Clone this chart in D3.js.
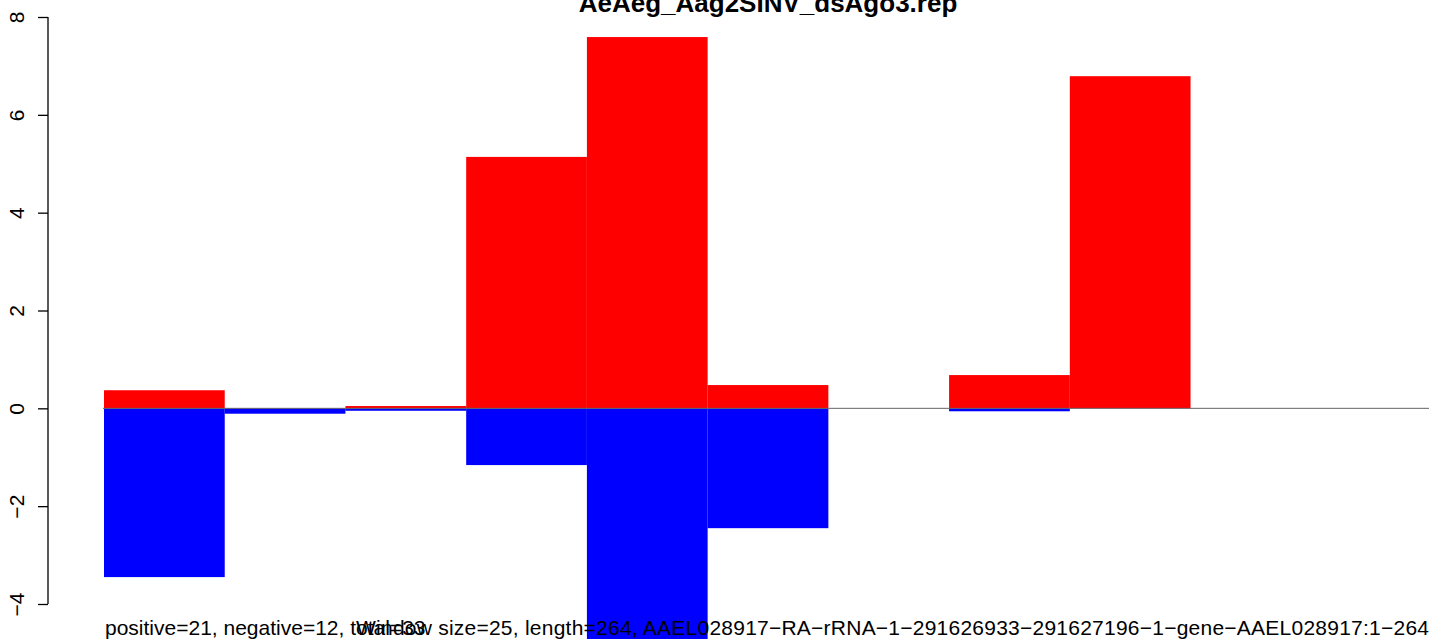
<!DOCTYPE html>
<html><head><meta charset="utf-8">
<script src="https://cdn.jsdelivr.net/npm/d3@7"></script>
<style>html,body{margin:0;padding:0;background:#fff;overflow:hidden}</style>
</head><body><svg id="c" width="1429" height="639"></svg>
<script>
const titleText = "AeAeg_Aag2SINV_dsAgo3.rep";
const windows = [0,1,2,3,4,5,6,7,8,9,10];
const positive = [0.37, 0, 0.047, 5.14, 7.59, 0.476, 0, 0.68, 6.79, 0, 0];
const negative = [-3.45, -0.11, -0.05, -1.16, -4.8, -2.45, 0, -0.06, 0, 0, 0];
const yTicks = [-4, -2, 0, 2, 4, 6, 8];
const leftNote = "positive=21, negative=12, total=33";
const rightNote = "Window size=25, length=264, AAEL028917\u2212RA\u2212rRNA\u22121\u2212291626933\u2212291627196\u22121\u2212gene\u2212AAEL028917:1\u2212264";

const svg = d3.select("#c");
const font = "'Liberation Sans', Arial, Helvetica, sans-serif";
const x = d3.scaleLinear().domain([0, 11]).range([104, 1432]);
const y = d3.scaleLinear().domain([-4, 8]).range([604, 17]);

// positive bars
svg.append("g").selectAll("rect").data(windows.filter(i => positive[i] > 0)).join("rect")
  .attr("x", i => x(i)).attr("width", i => x(i + 1) - x(i))
  .attr("y", i => y(positive[i])).attr("height", i => y(0) - y(positive[i]))
  .attr("fill", "#ff0000");
// negative bars
svg.append("g").selectAll("rect").data(windows.filter(i => negative[i] < 0)).join("rect")
  .attr("x", i => x(i)).attr("width", i => x(i + 1) - x(i))
  .attr("y", y(0)).attr("height", i => y(negative[i]) - y(0))
  .attr("fill", "#0000ff");

// zero line
svg.append("line").attr("x1", 103).attr("x2", 1429).attr("y1", y(0)).attr("y2", y(0))
  .attr("stroke", "#666").attr("stroke-width", 1);

// y axis
const ax = svg.append("g").attr("transform", "translate(48,0)")
  .call(d3.axisLeft(y).tickValues(yTicks).tickSize(10).tickPadding(0).tickFormat(d => d < 0 ? "\u2212" + Math.abs(d) : d));
ax.select(".domain").attr("stroke", "#000").attr("stroke-width", 1.3).attr("d", `M0,${y(-4)}V${y(8)}`);
ax.selectAll(".tick line").attr("stroke", "#000").attr("stroke-width", 1.3);
ax.selectAll(".tick text")
  .attr("font-family", font).attr("font-size", 21).attr("fill", "#000")
  .attr("x", null).attr("dy", null)
  .attr("text-anchor", "middle")
  .attr("transform", "translate(-24,0) rotate(-90)");

// title
svg.append("text").attr("x", 768).attr("y", 12).attr("text-anchor", "middle")
  .attr("font-family", font).attr("font-weight", "bold").attr("font-size", 26).text(titleText);

// notes
svg.append("text").attr("x", 105).attr("y", 635).attr("font-family", font).attr("font-size", 21).text(leftNote);
svg.append("text").attr("x", 356).attr("y", 635).attr("font-family", font).attr("font-size", 21)
  .attr("textLength", 1073).attr("lengthAdjust", "spacing").text(rightNote);
</script></body></html>
